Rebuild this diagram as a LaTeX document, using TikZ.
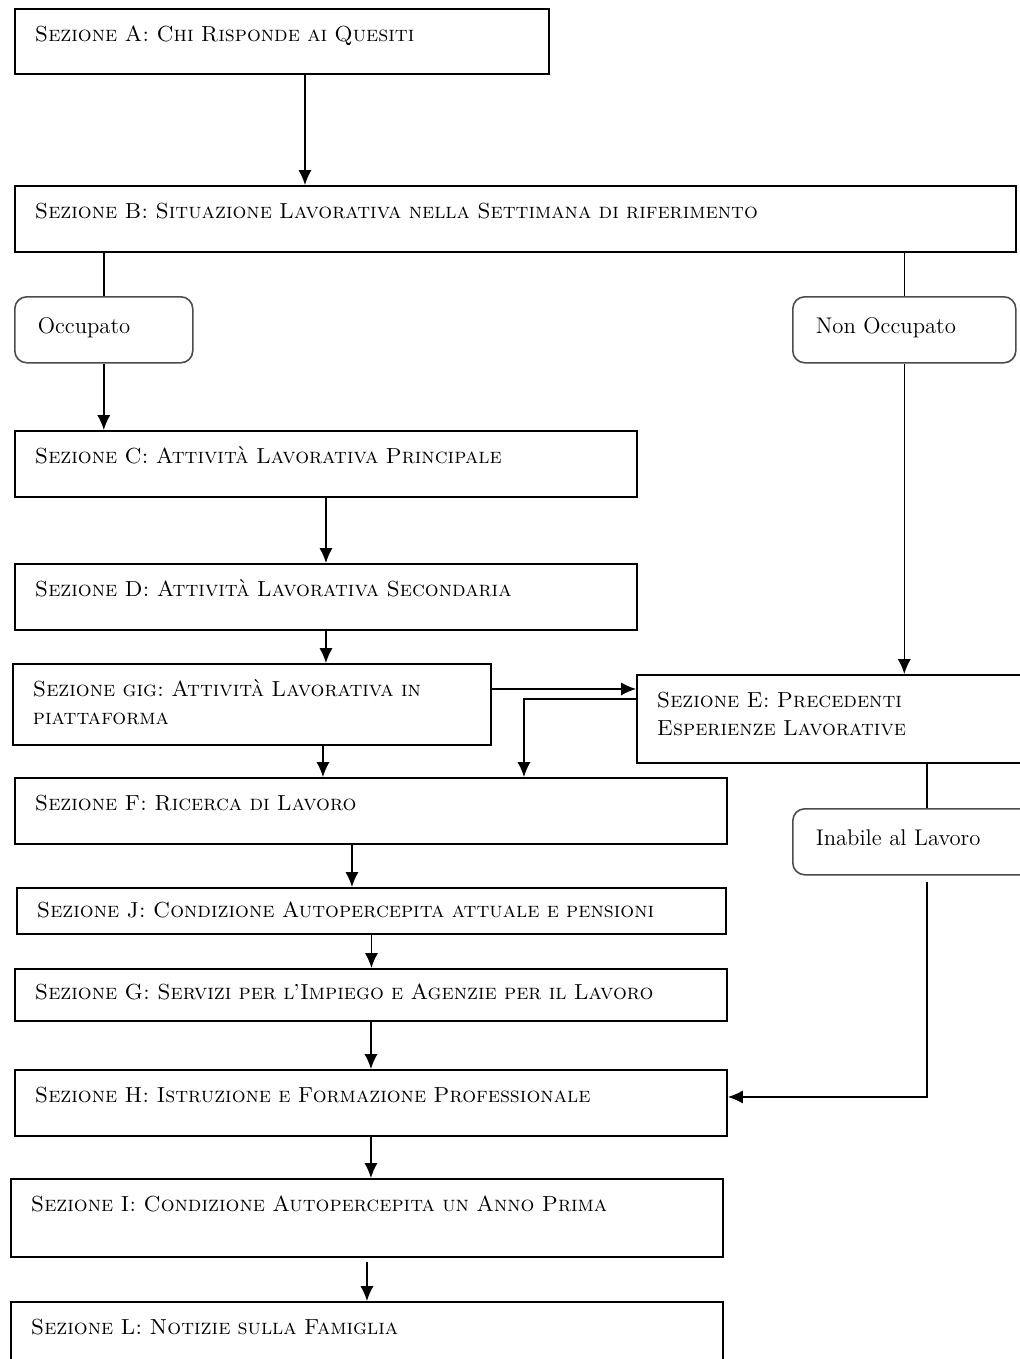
\documentclass[tikz,border=0pt]{standalone}
\usepackage{tikz}
\usetikzlibrary{arrows.meta,positioning,calc}
\frenchspacing

\newcommand{\secfont}{\fontsize{12.4}{16}\selectfont\scshape}
\newcommand{\optfont}{\fontsize{12.9}{15}\selectfont}

\begin{document}
\begin{tikzpicture}[>={Latex[length=8.5pt,width=7.5pt]}, line width=0.85pt]
    % Define the style for the blocks
    \tikzstyle{sect} = [rectangle, draw, line width=1.1pt, anchor=north west, align=left, inner xsep=0.4cm, inner ysep=0.32cm, text height=0.33cm, font=\secfont]
    \tikzstyle{choice} = [rectangle, draw=black!70, rounded corners=0.24cm, line width=0.9pt, anchor=north west, align=left, inner xsep=0.46cm, inner ysep=0.4cm, text height=0.33cm, font=\optfont]

    \useasboundingbox (0,0) rectangle (20.4,-27.18);
    \clip (0,0) rectangle (20.4,-27.18);

    % Nodes position
    \node [sect, text width=9.88cm, text depth=0.33cm] (secA) at (0.28,-0.16) {Sezione A: Chi Risponde ai Quesiti};
    \node [sect, text width=19.22cm, text depth=0.35cm] (secB) at (0.28,-3.70) {Sezione B: Situazione Lavorativa nella Settimana di riferimento};
    \node [choice, text width=2.64cm, text depth=0.19cm] (occ) at (0.28,-5.92) {Occupato};
    \node [choice, text width=3.54cm, text depth=0.19cm] (nonocc) at (15.84,-5.92) {Non Occupato};
    \node [sect, text width=11.64cm, text depth=0.35cm] (secC) at (0.28,-8.60) {Sezione C: Attività Lavorativa Principale};
    \node [sect, text width=11.64cm, text depth=0.35cm] (secD) at (0.28,-11.26) {Sezione D: Attività Lavorativa Secondaria};
    \node [sect, text width=8.76cm, text depth=0.65cm] (secGIG) at (0.24,-13.26) {Sezione gig: Attività Lavorativa in\\piattaforma};
    \node [sect, text width=7.6cm, text depth=0.79cm] (secE) at (12.72,-13.48) {Sezione E: Precedenti\\Esperienze Lavorative};
    \node [choice, text width=4.44cm, text depth=0.19cm] (inab) at (15.84,-16.16) {Inabile al Lavoro};
    \node [sect, text width=13.44cm, text depth=0.35cm] (secF) at (0.28,-15.54) {Sezione F: Ricerca di Lavoro};
    \node [sect, text width=13.38cm, text depth=0.07cm, inner ysep=0.26cm] (secJ) at (0.32,-17.74) {Sezione J: Condizione Autopercepita attuale e pensioni};
    \node [sect, text width=13.44cm, text depth=0.15cm, inner ysep=0.28cm] (secG) at (0.28,-19.36) {Sezione G: Servizi per l’Impiego e Agenzie per il Lavoro};
    \node [sect, text width=13.44cm, text depth=0.35cm] (secH) at (0.28,-21.38) {Sezione H: Istruzione e Formazione Professionale};
    \node [sect, text width=13.44cm, text depth=0.59cm] (secI) at (0.20,-23.56) {Sezione I: Condizione Autopercepita un Anno Prima};
    \node [sect, text width=13.44cm, text depth=0.70cm] (secL) at (0.20,-26.02) {Sezione L: Notizie sulla Famiglia};

    % Arrows
    \draw[->] ([xshift=0.46cm]secA.south) -- ([xshift=0.46cm]secA.south |- secB.north);
    \draw (secB.south -| occ.north) -- (occ.north);
    \draw (secB.south -| nonocc.north) -- (nonocc.north);
    \draw[->] (occ.south) -- (occ.south |- secC.north);
    \draw[->] (secC.south) -- (secD.north);
    \draw[->] (secD.south) -- (secD.south |- secGIG.north);
    \draw[->] (nonocc.south) -- (nonocc.south |- secE.north);
    \draw[->] ([yshift=0.31cm]secGIG.east) -- ([yshift=0.31cm]secGIG.east -| secE.west);
    \draw[->] ([yshift=0.4cm]secE.west) -| ([xshift=3.06cm]secF.north);
    \draw[->] ([xshift=1.42cm]secGIG.south) -- ([xshift=1.42cm]secGIG.south |- secF.north);
    \draw (secE.south -| inab.north) -- (inab.north);
    \draw[->] ([yshift=-0.12cm]inab.south) |- ([yshift=0.12cm]secH.east);
    \draw[->] ([xshift=-0.38cm]secF.south) -- ([xshift=-0.38cm]secF.south |- secJ.north);
    \draw[->] (secJ.south) -- (secJ.south |- secG.north);
    \draw[->] (secG.south) -- (secH.north);
    \draw[->] (secH.south) -- (secH.south |- secI.north);
    \draw[->] ([yshift=-0.08cm]secI.south) -- (secI.south |- secL.north);
\end{tikzpicture}
\end{document}
